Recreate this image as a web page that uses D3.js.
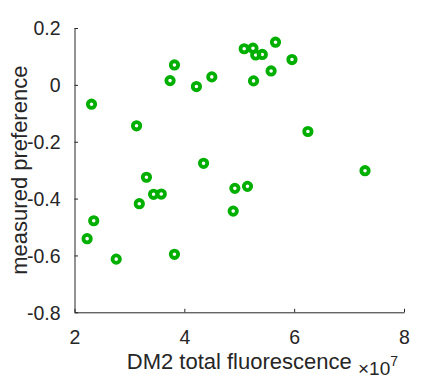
<!DOCTYPE html>
<html><head><meta charset="utf-8">
<script src="https://cdn.jsdelivr.net/npm/d3@7"></script>
<style>
html,body{margin:0;padding:0;background:#fff;}
text{font-family:"Liberation Sans",Arial,Helvetica,sans-serif;fill:#262626;}
</style></head>
<body>
<svg id="chart" width="448" height="379"></svg>
<script>
// DM2 total fluorescence (x 10^7)
const fluorescence = [2.31,3.13,3.74,3.82,4.22,4.50,5.09,5.25,5.30,5.42,5.66,5.96,5.58,5.26,6.25,7.29,4.35,3.31,3.44,3.58,3.18,4.92,5.15,4.89,2.35,2.23,2.76,3.82];
// measured preference
const preference   = [-0.068,-0.144,0.015,0.070,-0.006,0.028,0.127,0.129,0.105,0.107,0.150,0.089,0.049,0.014,-0.164,-0.302,-0.276,-0.325,-0.385,-0.384,-0.418,-0.364,-0.357,-0.444,-0.478,-0.541,-0.613,-0.596];
const xTicks = [2,4,6,8];
const yTicks = [-0.8,-0.6,-0.4,-0.2,0,0.2];
const xTickLabels = ["2","4","6","8"];
const yTickLabels = ["-0.8","-0.6","-0.4","-0.2","0","0.2"];

const svg = d3.select("#chart");
const mLeft = 74.5, mRight = 404, mTop = 28, mBottom = 312.3;
const x = d3.scaleLinear().domain([2,8]).range([mLeft,mRight]);
const y = d3.scaleLinear().domain([-0.8,0.2]).range([mBottom,mTop]);
const axisColor = "#262626";

const xAxis = d3.axisBottom(x).tickValues(xTicks).tickFormat((d,i)=>xTickLabels[i]).tickSizeInner(-3.5).tickSizeOuter(0).tickPadding(18);
const yAxis = d3.axisLeft(y).tickValues(yTicks).tickFormat((d,i)=>yTickLabels[i]).tickSizeInner(-3.5).tickSizeOuter(0).tickPadding(14);

const gx = svg.append("g").attr("transform",`translate(0,${mBottom})`).call(xAxis);
const gy = svg.append("g").attr("transform",`translate(${mLeft},0)`).call(yAxis);
[gx,gy].forEach(g=>{
  g.select(".domain").attr("stroke",axisColor).attr("stroke-width",1);
  g.selectAll(".tick line").attr("stroke",axisColor).attr("stroke-width",1);
  g.selectAll(".tick text").attr("fill",axisColor).style("font-size","19.5px").style("font-family","'Liberation Sans',Arial,sans-serif");
});
gy.selectAll(".tick text").attr("dy","0.35em");

svg.append("text").attr("x",(mLeft+mRight)/2).attr("y",369).attr("text-anchor","middle")
  .style("font-size","22px").text("DM2 total fluorescence");
const ex = svg.append("text").attr("x",398).attr("y",375).attr("text-anchor","end").style("font-size","19px");
ex.append("tspan").text("\u00D710");
ex.append("tspan").attr("dy",-9).style("font-size","14px").text("7");

svg.append("text").attr("transform",`translate(27,${(mTop+mBottom)/2}) rotate(-90)`).attr("text-anchor","middle")
  .style("font-size","22px").text("measured preference");

svg.append("g").selectAll("circle").data(fluorescence).join("circle")
  .attr("cx",(d)=>x(d)).attr("cy",(d,i)=>y(preference[i])).attr("r",3.7)
  .attr("fill","none").attr("stroke","rgb(0,175,0)").attr("stroke-width",3.8);
</script>
</body></html>
